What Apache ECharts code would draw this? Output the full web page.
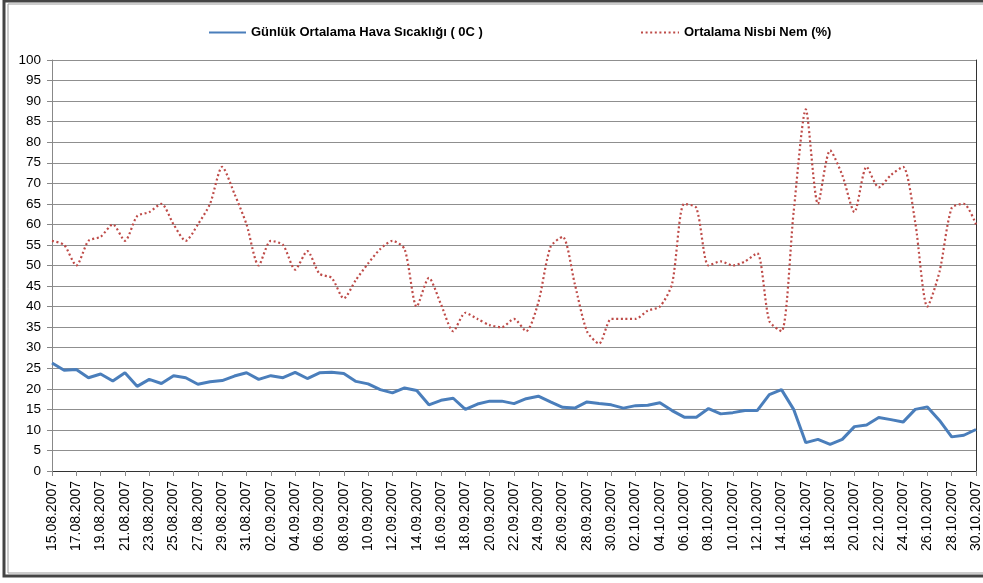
<!DOCTYPE html>
<html>
<head>
<meta charset="utf-8">
<title>Sıcaklık ve Nem</title>
<script src="https://cdn.jsdelivr.net/npm/echarts@6/dist/echarts.min.js"></script>
<style>
    html, body { margin: 0; padding: 0; background: #fff; }
    #main { width: 983px; height: 583px; }
</style>
</head>
<body>
<div id="main"></div>
<script>
// tarih ekseni (günlük, 15.08.2007 - 30.10.2007)
var days = [
    '15.08.2007','16.08.2007','17.08.2007','18.08.2007','19.08.2007','20.08.2007','21.08.2007',
    '22.08.2007','23.08.2007','24.08.2007','25.08.2007','26.08.2007','27.08.2007','28.08.2007',
    '29.08.2007','30.08.2007','31.08.2007','01.09.2007','02.09.2007','03.09.2007','04.09.2007',
    '05.09.2007','06.09.2007','07.09.2007','08.09.2007','09.09.2007','10.09.2007','11.09.2007',
    '12.09.2007','13.09.2007','14.09.2007','15.09.2007','16.09.2007','17.09.2007','18.09.2007',
    '19.09.2007','20.09.2007','21.09.2007','22.09.2007','23.09.2007','24.09.2007','25.09.2007',
    '26.09.2007','27.09.2007','28.09.2007','29.09.2007','30.09.2007','01.10.2007','02.10.2007',
    '03.10.2007','04.10.2007','05.10.2007','06.10.2007','07.10.2007','08.10.2007','09.10.2007',
    '10.10.2007','11.10.2007','12.10.2007','13.10.2007','14.10.2007','15.10.2007','16.10.2007',
    '17.10.2007','18.10.2007','19.10.2007','20.10.2007','21.10.2007','22.10.2007','23.10.2007',
    '24.10.2007','25.10.2007','26.10.2007','27.10.2007','28.10.2007','29.10.2007','30.10.2007'
];

// günlük ortalama hava sıcaklığı
var sicaklik = [
    26.3, 24.5, 24.7, 22.7, 23.6, 21.9, 23.9, 20.6, 22.3, 21.3, 23.2, 22.7, 21.1, 21.7,
    22.0, 23.1, 23.9, 22.3, 23.2, 22.7, 24.0, 22.5, 23.9, 24.0, 23.7, 21.8, 21.2, 19.8,
    19.0, 20.2, 19.6, 16.1, 17.2, 17.7, 15.0, 16.3, 17.0, 17.0, 16.4, 17.6, 18.2, 16.8,
    15.5, 15.3, 16.8, 16.4, 16.1, 15.3, 15.9, 16.0, 16.6, 14.7, 13.1, 13.1, 15.2, 13.9,
    14.2, 14.7, 14.7, 18.6, 19.8, 15.0, 6.9, 7.7, 6.5, 7.7, 10.8, 11.2, 13.0, 12.5,
    11.9, 15.0, 15.6, 12.3, 8.3, 8.7, 10.1
];

// ortalama nisbi nem (%)
var nem = [
    56, 55, 50, 56, 57, 60, 56, 62, 63, 65, 60, 56, 60, 65,
    74, 67.5, 60, 50, 56, 55, 49, 53.5, 48, 47, 42, 46.5, 50.5, 54,
    56, 54, 40, 47, 40.5, 34, 38.5, 37, 35.5, 35, 37, 34, 41, 54.5,
    57, 45.5, 34, 31, 37, 37, 37, 39, 40, 45.5, 65, 64, 50, 51,
    50, 51, 53, 36.5, 34, 63, 88, 65, 78, 72, 63, 74, 69, 72,
    74, 60.5, 40, 48.5, 64, 65, 60
];

var yTicks = { min: 0, max: 100, step: 5 };

var nameTemp = 'Günlük Ortalama Hava Sıcaklığı ( 0C )';
var nameHum = 'Ortalama Nisbi Nem (%)';

var myChart = echarts.init(document.getElementById('main'));

var legendText = {
    fontFamily: 'Liberation Sans, Arial, sans-serif',
    fontSize: 13,
    fontWeight: 'bold',
    color: '#000'
};

var option = {
    backgroundColor: '#fff',
    animation: false,
    legend: [{
        data: [nameTemp],
        left: 208,
        top: 26,
        padding: 0,
        itemWidth: 37,
        itemHeight: 14,
        itemGap: 4,
        itemStyle: { opacity: 0 },
        textStyle: legendText
    }, {
        data: [nameHum],
        left: 640,
        top: 26,
        padding: 0,
        itemWidth: 38,
        itemHeight: 14,
        itemStyle: { opacity: 0 },
        textStyle: legendText
    }],
    grid: {
        left: 52,
        right: 5,
        top: 60,
        bottom: 112,
        containLabel: false
    },
    xAxis: [{
        type: 'category',
        data: days,
        boundaryGap: false,
        axisLine: { lineStyle: { color: '#888', width: 1 } },
        axisTick: { interval: 1, length: 5, lineStyle: { color: '#888' } },
        axisLabel: {
            interval: 1, // her iki günde bir etiket
            rotate: 90,
            margin: 10,
            fontFamily: 'Liberation Sans, Arial, sans-serif',
            fontSize: 14,
            color: '#000'
        },
        splitLine: { show: false }
    }, {
        type: 'category',
        data: days,
        boundaryGap: false,
        position: 'top',
        axisLine: { lineStyle: { color: '#333', width: 1 } },
        axisTick: { show: false },
        axisLabel: { show: false }
    }],
    yAxis: [{
        type: 'value',
        min: yTicks.min,
        max: yTicks.max,
        interval: yTicks.step,
        axisLine: { show: true, lineStyle: { color: '#888' } },
        axisTick: { show: true, length: 5, lineStyle: { color: '#888' } },
        axisLabel: {
            margin: 11,
            fontFamily: 'Liberation Sans, Arial, sans-serif',
            fontSize: 13.5,
            color: '#000'
        },
        splitLine: { lineStyle: { color: '#8f8f8f', width: 1 } }
    }, {
        type: 'value',
        min: yTicks.min,
        max: yTicks.max,
        interval: yTicks.step,
        position: 'right',
        axisLine: { show: true, lineStyle: { color: '#333' } },
        axisTick: { show: false },
        axisLabel: { show: false },
        splitLine: { show: false }
    }],
    graphic: [{
        type: 'rect',
        shape: { x: 4, y: 1, width: 1000, height: 575 },
        style: { fill: 'none', stroke: '#444', lineWidth: 3 },
        silent: true
    }, {
        type: 'rect',
        shape: { x: 8, y: 4, width: 1000, height: 569 },
        style: { fill: 'none', stroke: '#999', lineWidth: 1 },
        silent: true
    }],
    series: [{
        name: nameTemp,
        type: 'line',
        data: sicaklik,
        symbol: 'none',
        color: '#4a7ebb',
        lineStyle: { color: '#4a7ebb', width: 3 },
        z: 3
    }, {
        name: nameHum,
        type: 'line',
        data: nem,
        symbol: 'none',
        smooth: 0.25,
        color: '#be4b48',
        lineStyle: { color: '#be4b48', width: 2.2, type: [2, 2.6] },
        z: 2
    }]
};

myChart.setOption(option);
</script>
</body>
</html>
